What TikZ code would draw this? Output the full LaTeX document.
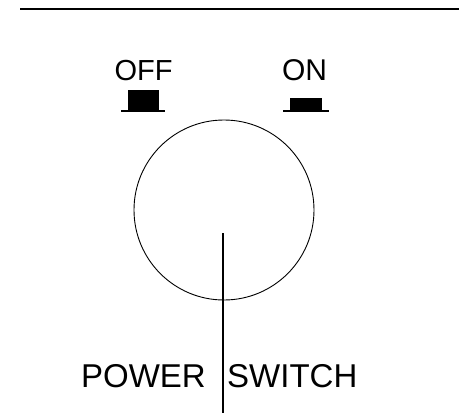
\documentclass[tikz,border=0pt]{standalone}
\usepackage{fontspec}
\setmainfont{Liberation Sans}
\begin{document}
\begin{tikzpicture}[x=1pt, y=-1pt, inner sep=0pt]
    \useasboundingbox (0,0) rectangle (459,413);
    \draw[line width=2.2pt] (20,9) -- (459,9);

    \node[anchor=base, font=\fontsize{29}{34}\selectfont] (off) at (143.5,80) {OFF};
    \node[anchor=base, font=\fontsize{30}{34}\selectfont] (on) at (304.5,80) {ON};

    \fill (128,90) rectangle (159,110);
    \draw[line width=1.6pt] (121,111) -- (165,111);
    \fill (290,98) rectangle (322,110);
    \draw[line width=1.6pt] (283,111) -- (329,111);

    \node[draw, circle, minimum size=180, line width=0.9pt] (knob) at (224,210) {};
    \coordinate (shaft) at (223,233);
    \coordinate (shaftend) at (223,413);
    \draw[line width=1.4pt] (shaft) -- (shaftend);

    \node[anchor=base east, font=\fontsize{33}{40}\selectfont] (power) at (206,387) {POWER};
    \node[anchor=base west, font=\fontsize{33}{40}\selectfont] (switch) at (227,387) {SWITCH};
\end{tikzpicture}
\end{document}
